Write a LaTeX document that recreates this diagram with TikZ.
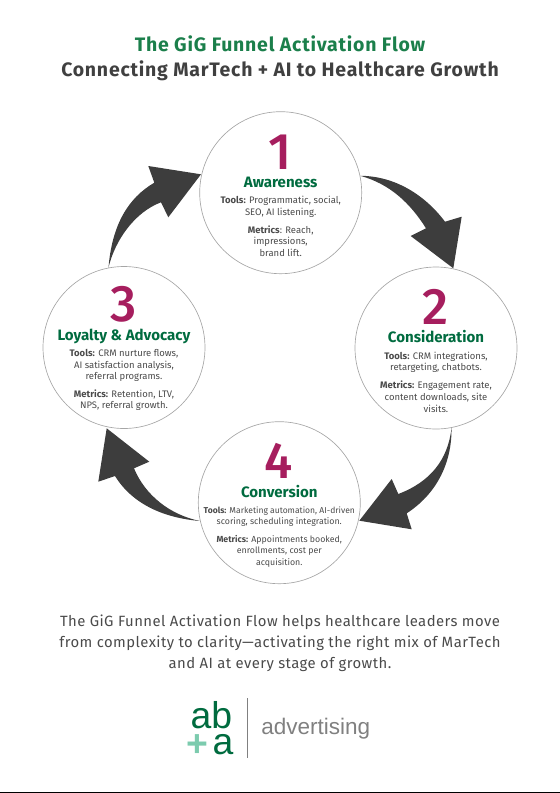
\documentclass[tikz,border=0pt]{standalone}
\usepackage{fontspec}
\setmainfont{Fira Sans}
\newfontfamily\numfont{Fira Sans Medium}
\newfontfamily\logofont{Liberation Sans}
\usetikzlibrary{positioning}
\definecolor{gigdark}{HTML}{3D3D3D}
\definecolor{gigtext}{HTML}{4A4A4A}
\definecolor{giggreen}{HTML}{006B3F}
\definecolor{gigtitle}{HTML}{1B7F4B}
\definecolor{gigmint}{HTML}{7CCBAE}
\definecolor{gigpink}{HTML}{A61E5E}
\tikzset{
  stage/.style={circle, draw=gray!70, line width=0.5pt, minimum size=121.5pt, inner sep=0pt},
  bignum/.style={text=gigpink, inner sep=0pt, font=\fontsize{38.5}{40}\numfont},
  stagename/.style={text=giggreen, inner sep=0pt, font=\fontsize{11.3}{12}\selectfont\bfseries},
  blurb/.style={text=gigtext, inner sep=0pt, font=\fontsize{7.1}{8.7}\selectfont, align=center},
  blurbtight/.style={blurb, font=\fontsize{6.6}{8.7}\selectfont},
  headline/.style={font=\fontsize{14.6}{16}\selectfont\bfseries\addfontfeature{LetterSpace=4}},
  closing/.style={text=gigtext, font=\fontsize{11.15}{15.8}\selectfont\addfontfeature{LetterSpace=3}, align=center},
  logoletter/.style={text=giggreen, anchor=base, inner sep=0pt, font=\fontsize{28}{28}\logofont},
  swoosh/.style={fill=gigdark}
}
\begin{document}
\begin{tikzpicture}[x=0.75pt,y=-0.75pt]
\useasboundingbox (0,0) rectangle (560,793);
\node[headline, text=gigtitle] (title) at (280,44) {The GiG Funnel Activation Flow};
\node[headline, text=black!75] (subtitle) at (280,71) {Connecting MarTech + AI to Healthcare Growth};

\node[stage] (aware) at (280.7,192.7) {};
\node[stage] (consider) at (436,348) {};
\node[stage] (loyal) at (124,347.5) {};
\node[stage] (convert) at (279.3,502.7) {};

\node[bignum] (num1) at (280,152) {1};
\node[stagename] (name1) at (280.7,182) {Awareness};
\node[blurb] (tools1) at (280.7,207) {\textbf{Tools:} Programmatic, social,\\SEO, AI listening.};
\node[blurb] (metrics1) at (280.7,241) {\textbf{Metrics}: Reach,\\impressions,\\brand lift.};

\node[bignum] (num2) at (436,307) {2};
\node[stagename] (name2) at (436,337) {Consideration};
\node[blurb] (tools2) at (436,362.5) {\textbf{Tools:} CRM integrations,\\retargeting, chatbots.};
\node[blurb] (metrics2) at (436,396.7) {\textbf{Metrics:} Engagement rate,\\content downloads, site\\visits.};

\node[bignum] (num3) at (124,304) {3};
\node[stagename] (name3) at (124,336) {Loyalty \& Advocacy};
\node[blurb] (tools3) at (124,365.7) {\textbf{Tools:} CRM nurture flows,\\AI satisfaction analysis,\\referral programs.};
\node[blurb] (metrics3) at (124,400) {\textbf{Metrics:} Retention, LTV,\\NPS, referral growth.};

\node[bignum] (num4) at (279,461) {4};
\node[stagename] (name4) at (279.3,492) {Conversion};
\node[blurbtight] (tools4) at (279.3,516.7) {\fontsize{6.4}{8.7}\selectfont\textbf{Tools:} Marketing automation, AI-driven\\scoring, scheduling integration.};
\node[blurbtight] (metrics4) at (279.3,551) {\textbf{Metrics:} Appointments booked,\\enrollments, cost per\\acquisition.};

% arrows around the ring
\coordinate (tip12) at (453.3,268.3);
\coordinate (tip24) at (359.3,520.7);
\coordinate (tip43) at (106.7,428.3);
\coordinate (tip31) at (201,174.3);
\fill[swoosh] (aware.12) .. controls (395,176) and (425,195) .. (445,221.7) -- (461.7,216.7) -- (tip12) -- (410.7,236) -- (426,228.3) .. controls (410,203) and (390,184) .. (aware.12) -- cycle;
\fill[swoosh] (consider.-79) .. controls (452,465) and (435,495) .. (406.7,513.3) -- (411.7,529.3) -- (tip24) -- (391.7,479) -- (398.3,494) .. controls (430,482) and (448,460) .. (consider.-79) -- cycle;
\fill[swoosh] (convert.193) .. controls (165,518) and (133,505) .. (115,476) -- (98.3,481.7) -- (tip43) -- (149.3,461.7) -- (134,468.3) .. controls (145,495) and (170,515) .. (convert.193) -- cycle;
\fill[swoosh] (loyal.101) .. controls (112,225) and (128,198) .. (154.3,182.7) -- (148.3,166) -- (tip31) -- (168.3,217.3) -- (161,202.3) .. controls (135,212) and (115,240) .. (loyal.101) -- cycle;

\node[closing] (closing) at (280,643) {The GiG Funnel Activation Flow helps healthcare leaders move\\from complexity to clarity—activating the right mix of MarTech\\and AI at every stage of growth.};

% logo
\node[logoletter] (logoab) at (211.5,728) {ab};
\node[logoletter, text=gigmint] (logoplus) at (197.5,756) {\bfseries +};
\node[logoletter] (logoa) at (223,754) {a};
\coordinate (ruletop) at (247.5,698);
\coordinate (rulebot) at (247.5,758);
\draw[gray, line width=0.5pt] (ruletop) -- (rulebot);
\node[text=gray, inner sep=0pt, anchor=base west, font=\fontsize{16.9}{18}\logofont] (logotext) at (261,734) {advertising};
\coordinate (footl) at (0,792.4);
\coordinate (footr) at (560,792.4);
\draw[black, line width=0.8pt] (footl) -- (footr);
\end{tikzpicture}
\end{document}
